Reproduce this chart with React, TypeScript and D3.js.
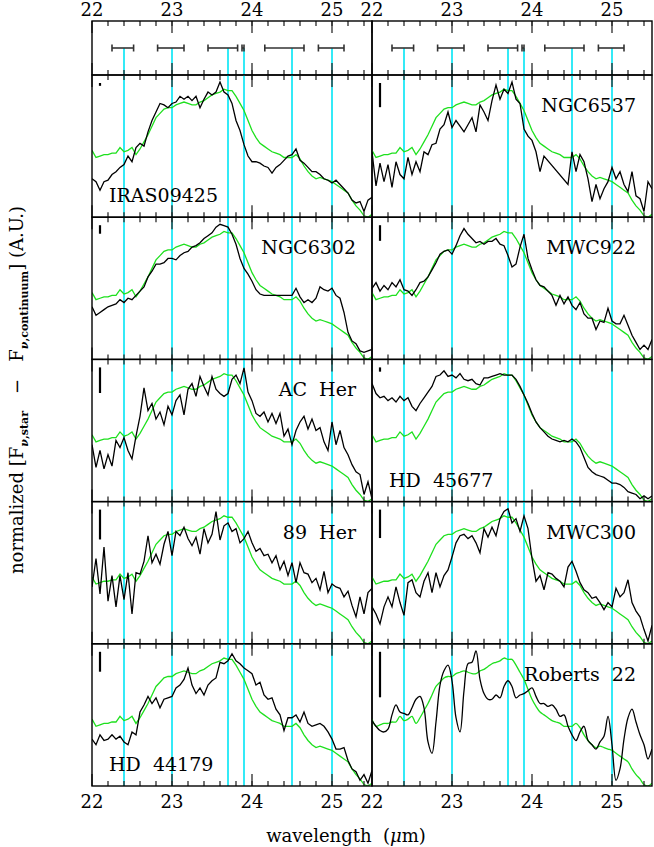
import React from 'react';
import * as d3 from 'd3';

// wavelength grid: 22.00 .. 25.50 um in 0.05 steps (71 samples)
const WAVE_START = 22;
const WAVE_STEP = 0.05;

const X_TICK_LABELS = [22, 23, 24, 25];

// feature positions (cyan lines) and their widths (top strip)
const FEATURES = [22.4, 23.0, 23.7, 23.9, 24.5, 25.0];
const FEATURE_LO = [22.25, 22.82, 23.45, 23.875, 24.16, 24.83];
const FEATURE_HI = [22.52, 23.15, 23.82, 23.9, 24.65, 25.15];

// comparison profile (green), same in each panel
const TEMPLATE = [
  0.47, 0.42, 0.43, 0.44, 0.44, 0.45, 0.45, 0.49, 0.46, 0.47,
  0.49, 0.44, 0.48, 0.53, 0.58, 0.64, 0.70, 0.73, 0.76, 0.77,
  0.77, 0.79, 0.80, 0.81, 0.80, 0.79, 0.79, 0.81, 0.82, 0.84,
  0.86, 0.87, 0.88, 0.90, 0.89, 0.89, 0.85, 0.80, 0.75, 0.68,
  0.61, 0.56, 0.52, 0.50, 0.48, 0.46, 0.45, 0.44, 0.42, 0.42,
  0.42, 0.44, 0.41, 0.36, 0.32, 0.29, 0.27, 0.28, 0.27, 0.26,
  0.25, 0.23, 0.21, 0.19, 0.17, 0.12, 0.08, 0.05, 0.01, 0.00,
  0.02,
];

const IRAS09425 = [
  0.27, 0.25, 0.19, 0.25, 0.26, 0.30, 0.32, 0.35, 0.37, 0.43,
  0.39, 0.49, 0.52, 0.50, 0.60, 0.68, 0.74, 0.80, 0.79, 0.77,
  0.80, 0.81, 0.85, 0.83, 0.85, 0.82, 0.85, 0.77, 0.83, 0.88,
  0.86, 0.88, 0.95, 0.88, 0.86, 0.80, 0.68, 0.61, 0.51, 0.43,
  0.39, 0.39, 0.38, 0.36, 0.35, 0.31, 0.35, 0.37, 0.40, 0.43,
  0.44, 0.48, 0.40, 0.38, 0.35, 0.32, 0.32, 0.30, 0.27, 0.26,
  0.24, 0.26, 0.23, 0.20, 0.17, 0.12, 0.10, 0.11, 0.04, 0.12,
  0.14,
];

const NGC6537 = [
  0.46, 0.22, 0.38, 0.25, 0.37, 0.21, 0.39, 0.30, 0.27, 0.42,
  0.30, 0.39, 0.32, 0.46, 0.44, 0.51, 0.52, 0.62, 0.65, 0.74,
  0.63, 0.68, 0.64, 0.60, 0.65, 0.70, 0.60, 0.79, 0.74, 0.68,
  0.82, 0.93, 0.83, 0.90, 0.87, 0.95, 0.83, 0.80, 0.62, 0.57,
  0.54, 0.46, 0.32, 0.43, null, null, null, null, null, 0.23,
  0.46, 0.32, 0.44, 0.39, 0.27, 0.11, 0.23, 0.13, 0.20, 0.25,
  0.35, 0.27, 0.32, 0.23, 0.18, 0.32, 0.15, 0.13, 0.04, 0.25,
  0.20,
];

const NGC6302 = [
  0.37, 0.31, 0.33, 0.35, 0.37, 0.38, 0.39, 0.42, 0.40, 0.43,
  0.42, 0.45, 0.48, 0.51, 0.58, 0.62, 0.67, 0.67, 0.68, 0.71,
  0.71, 0.70, 0.73, 0.75, 0.76, 0.79, 0.80, 0.82, 0.85, 0.87,
  0.89, 0.93, 0.95, 0.94, 0.93, 0.88, 0.81, 0.71, 0.64, 0.60,
  0.55, 0.49, 0.46, 0.45, 0.45, 0.45, 0.45, 0.45, 0.45, 0.45,
  0.45, 0.50, 0.44, 0.40, 0.42, 0.40, 0.43, 0.51, 0.49, 0.48,
  0.50, 0.45, 0.43, 0.33, 0.19, 0.13, 0.11, 0.06, 0.05, 0.06,
  0.07,
];

const MWC922 = [
  0.50, 0.54, 0.48, 0.52, 0.49, 0.54, 0.51, 0.56, 0.49, 0.48,
  0.45, 0.49, 0.54, 0.55, 0.58, 0.63, 0.68, 0.74, 0.76, 0.77,
  0.74, 0.80, 0.87, 0.92, 0.88, 0.85, 0.82, 0.83, 0.81, 0.83,
  0.83, 0.85, 0.81, 0.80, 0.73, 0.65, 0.67, 0.79, 0.88, 0.71,
  0.63, 0.56, 0.52, 0.51, 0.48, 0.45, 0.38, 0.45, 0.39, 0.44,
  0.38, 0.35, 0.40, 0.32, 0.29, 0.29, 0.21, 0.27, 0.26, 0.36,
  0.27, 0.25, 0.25, 0.31, 0.24, 0.17, 0.12, 0.07, 0.10, 0.07,
  0.14,
];

const AC_HER = [
  0.40, 0.24, 0.36, 0.23, 0.33, 0.25, 0.43, 0.38, 0.45, 0.36,
  0.30, 0.46, 0.60, 0.80, 0.64, 0.69, 0.58, 0.63, 0.54, 0.67,
  0.61, 0.71, 0.75, 0.61, 0.79, 0.83, 0.74, 0.88, 0.81, 0.75,
  0.88, 0.79, 0.76, 0.74, 0.76, 0.86, 0.89, 0.83, 0.94, 0.77,
  0.71, 0.62, 0.60, 0.63, 0.56, 0.62, 0.55, 0.62, 0.46, 0.51,
  0.40, 0.50, 0.56, 0.60, 0.51, 0.58, 0.50, 0.52, 0.42, 0.36,
  0.56, 0.40, 0.50, 0.38, 0.33, 0.26, 0.21, 0.19, 0.05, 0.14,
  0.02,
];

const HD45677 = [
  0.83, 0.76, 0.73, 0.74, 0.71, 0.73, 0.70, 0.74, 0.71, 0.73,
  0.67, 0.64, 0.69, 0.73, 0.77, 0.81, 0.88, 0.89, 0.92, 0.88,
  0.89, 0.87, 0.90, 0.86, 0.85, 0.86, 0.83, 0.82, 0.87, 0.87,
  0.88, 0.89, 0.90, 0.89, 0.89, 0.89, 0.86, 0.81, 0.75, 0.69,
  0.62, 0.56, 0.52, 0.49, 0.46, 0.44, 0.43, 0.42, 0.43, 0.42,
  0.44, 0.42, 0.38, 0.31, 0.24, 0.21, 0.19, 0.18, 0.17, 0.15,
  0.13, 0.13, 0.12, 0.10, 0.07, 0.06, 0.05, 0.02, 0.04, 0.02,
  0.04,
];

const HER_89 = [
  0.40, 0.60, 0.35, 0.68, 0.30, 0.48, 0.26, 0.48, 0.31, 0.50,
  0.21, 0.50, 0.49, 0.58, 0.76, 0.57, 0.63, 0.56, 0.70, 0.79,
  0.62, 0.79, 0.76, 0.82, 0.74, 0.69, 0.75, 0.63, 0.81, 0.71,
  0.77, 0.93, 0.73, 0.83, 0.85, 0.79, 0.81, 0.71, 0.74, 0.79,
  0.71, 0.65, 0.67, 0.62, 0.63, 0.57, 0.62, 0.52, 0.58, 0.48,
  0.57, 0.43, 0.57, 0.50, 0.49, 0.43, 0.46, 0.38, 0.51, 0.36,
  0.42, 0.40, 0.39, 0.33, 0.37, 0.27, 0.19, 0.33, 0.21, 0.36,
  0.39,
];

const MWC300 = [
  0.26, 0.21, 0.14, 0.26, 0.33, 0.26, 0.40, 0.29, 0.20, 0.43,
  0.45, 0.36, 0.33, 0.44, 0.50, 0.36, 0.50, 0.40, 0.48, 0.52,
  0.61, 0.71, 0.76, 0.77, 0.74, 0.76, 0.71, 0.64, 0.81, 0.75,
  0.82, 0.76, 0.88, 0.93, 0.95, 0.85, 0.88, 0.79, 0.90, 0.81,
  0.60, 0.44, 0.48, 0.38, 0.50, 0.49, 0.46, 0.44, 0.40, 0.54,
  0.58, 0.51, 0.43, 0.38, 0.36, 0.32, 0.33, 0.29, 0.24, 0.29,
  0.26, 0.39, 0.33, 0.36, 0.45, 0.29, 0.23, 0.19, 0.10, 0.02,
  0.13,
];

const HD44179 = [
  0.33, 0.29, 0.36, 0.32, 0.33, 0.36, 0.33, 0.35, 0.31, 0.29,
  0.38, 0.36, 0.52, 0.57, 0.63, 0.58, 0.62, 0.55, 0.61, 0.62,
  0.63, 0.69, 0.71, 0.75, 0.83, 0.71, 0.65, 0.69, 0.64, 0.71,
  0.74, 0.76, 0.87, 0.86, 0.88, 0.93, 0.88, 0.86, 0.83, 0.81,
  0.79, 0.71, 0.73, 0.64, 0.61, 0.62, 0.54, 0.50, 0.39, 0.48,
  0.48, 0.50, 0.45, 0.52, 0.44, 0.42, 0.43, 0.44, 0.42, 0.38,
  0.33, 0.26, 0.26, 0.27, 0.18, 0.12, 0.10, 0.04, 0.08, 0.02,
  0.11,
];

const ROBERTS22 = [
  0.46, 0.42, 0.39, 0.38, 0.40, 0.50, 0.57, 0.52, 0.51, 0.50,
  0.55, 0.61, 0.63, 0.55, 0.31, 0.23, 0.45, 0.71, 0.81, 0.85,
  0.74, 0.48, 0.38, 0.67, 0.86, 0.87, 0.95, 0.75, 0.65, 0.61,
  0.61, 0.64, 0.62, 0.70, 0.74, 0.70, 0.62, 0.64, 0.65, 0.67,
  0.69, 0.63, 0.58, 0.58, 0.56, 0.57, 0.54, 0.49, 0.50, 0.42,
  0.36, 0.32, 0.38, 0.42, 0.32, 0.29, 0.26, 0.31, 0.35, 0.49,
  0.29, 0.04, 0.12, 0.33, 0.48, 0.54, 0.45, 0.36, 0.29, 0.19,
  0.26,
];

const NAMES = ['IRAS09425', 'NGC6537', 'NGC6302', 'MWC922', 'AC Her', 'HD 45677', '89 Her', 'MWC300', 'HD 44179', 'Roberts 22'];
const SPECTRA = [IRAS09425, NGC6537, NGC6302, MWC922, AC_HER, HD45677, HER_89, MWC300, HD44179, ROBERTS22];
// typical noise (fraction of panel height), drawn as the small bar top-left
const NOISE = [0.02, 0.17, 0.06, 0.11, 0.18, 0.03, 0.21, 0.2, 0.14, 0.32];

// layout
const W = 654, H = 847;
const COL_X = [92, 372];
const PW = 280;
const STRIP_TOP = 21, STRIP_BOT = 75;
const ROW_H = 142.2;
const FONT = '"DejaVu Serif", serif';
const CYAN = '#1ee8f6';
const GREEN = '#1ee01e';
const BOTTOM_LEFT_LABELS = ['IRAS09425', 'HD 45677', 'HD 44179'];

const toPoints = (vals) =>
  vals
    .map((v, i) => (v == null ? null : [WAVE_START + i * WAVE_STEP, v]))
    .filter((p) => p !== null);

function Ticks({ x, top, bottom }) {
  const minor = d3.range(22.2, 25.45, 0.2);
  return (
    <g stroke="#2a2a2a" strokeWidth={1.3}>
      {minor.map((t) => (
        <g key={'m' + t}>
          <line x1={x(t)} x2={x(t)} y1={top} y2={top + 5} />
          <line x1={x(t)} x2={x(t)} y1={bottom} y2={bottom - 5} />
        </g>
      ))}
      {X_TICK_LABELS.map((t) => (
        <g key={'M' + t}>
          <line x1={x(t)} x2={x(t)} y1={top} y2={top + 12} />
          <line x1={x(t)} x2={x(t)} y1={bottom} y2={bottom - 12} />
        </g>
      ))}
    </g>
  );
}

function Column({ col }) {
  const x = d3.scaleLinear().domain([22, 25.5]).range([COL_X[col], COL_X[col] + PW]);
  const left = COL_X[col];
  const right = left + PW;
  const stripY = 48;
  const lastBottom = STRIP_BOT + ROW_H * 5;

  return (
    <g>
      {/* top strip with feature widths */}
      {FEATURES.map((f) => (
        <line key={'sc' + f} x1={x(f)} x2={x(f)} y1={stripY} y2={STRIP_BOT} stroke={CYAN} strokeWidth={1.8} />
      ))}
      <g stroke="#333" strokeWidth={1.6}>
        {FEATURE_LO.map((lo, i) => (
          <g key={'eb' + i}>
            <line x1={x(lo)} x2={x(FEATURE_HI[i])} y1={stripY} y2={stripY} />
            <line x1={x(lo)} x2={x(lo)} y1={stripY - 3.5} y2={stripY + 3.5} />
            <line x1={x(FEATURE_HI[i])} x2={x(FEATURE_HI[i])} y1={stripY - 3.5} y2={stripY + 3.5} />
          </g>
        ))}
      </g>
      <Ticks x={x} top={STRIP_TOP} bottom={STRIP_BOT} />
      <rect x={left} y={STRIP_TOP} width={PW} height={STRIP_BOT - STRIP_TOP} fill="none" stroke="#000" strokeWidth={1.4} />

      {/* top axis labels */}
      {X_TICK_LABELS.map((t) => (
        <text key={'tl' + t} x={x(t)} y={16} textAnchor="middle" fontFamily={FONT} fontSize={18}>
          {t}
        </text>
      ))}

      {d3.range(5).map((row) => {
        const idx = row * 2 + col;
        const top = STRIP_BOT + row * ROW_H;
        const bottom = top + ROW_H;
        const y = d3.scaleLinear().domain([0, 1]).range([bottom, top]);
        const line = d3
          .line()
          .x((d) => x(d[0]))
          .y((d) => y(d[1]))
          .curve(NAMES[idx] === 'Roberts 22' ? d3.curveCatmullRom : d3.curveLinear);
        const name = NAMES[idx];
        const bl = BOTTOM_LEFT_LABELS.includes(name);
        return (
          <g key={'row' + row}>
            <defs>
              <clipPath id={`clip-${col}-${row}`}>
                <rect x={left} y={top} width={PW} height={ROW_H} />
              </clipPath>
            </defs>
            {FEATURES.map((f) => (
              <line key={'c' + f} x1={x(f)} x2={x(f)} y1={top} y2={bottom} stroke={CYAN} strokeWidth={1.8} />
            ))}
            <g clipPath={`url(#clip-${col}-${row})`}>
              <path d={line(toPoints(TEMPLATE))} fill="none" stroke={GREEN} strokeWidth={1.3} />
              <path d={line(toPoints(SPECTRA[idx]))} fill="none" stroke="#000" strokeWidth={1.3} />
            </g>
            <line x1={left + 8} x2={left + 8} y1={top + 8} y2={top + 8 + NOISE[idx] * ROW_H} stroke="#000" strokeWidth={2.2} />
            <Ticks x={x} top={top} bottom={bottom} />
            <rect x={left} y={top} width={PW} height={ROW_H} fill="none" stroke="#000" strokeWidth={1.4} />
            <text
              x={bl ? left + 17 : right - 16}
              y={bl ? bottom - 15 : top + 37}
              textAnchor={bl ? 'start' : 'end'}
              fontFamily={FONT}
              fontSize={19}
              style={{ whiteSpace: 'pre' }}
            >
              {name.replace(' ', '  ')}
            </text>
          </g>
        );
      })}

      {/* bottom axis labels */}
      {X_TICK_LABELS.map((t) => (
        <text key={'bl' + t} x={x(t)} y={lastBottom + 22} textAnchor="middle" fontFamily={FONT} fontSize={18}>
          {t}
        </text>
      ))}
    </g>
  );
}

export default function App() {
  return (
    <svg width={W} height={H} style={{ position: 'absolute', left: 0, top: 0, background: '#fff' }}>
      <rect width={W} height={H} fill="#fff" />
      <Column col={0} />
      <Column col={1} />
      <text x={346} y={842} textAnchor="middle" fontFamily={FONT} fontSize={18} style={{ whiteSpace: 'pre' }}>
        {'wavelength  ('}
        <tspan fontStyle="italic">μ</tspan>
        {'m)'}
      </text>
      <text
        transform="translate(23,390) rotate(-90)"
        textAnchor="middle"
        fontFamily={FONT}
        fontSize={18}
        style={{ whiteSpace: 'pre' }}
      >
        {'normalized ['}F
        <tspan fontSize={11} fontWeight="bold" fontStyle="italic" dy={5}>ν</tspan>
        <tspan fontSize={11} fontWeight="bold">,star</tspan>
        <tspan dy={-5}>{'   −   F'}</tspan>
        <tspan fontSize={11} fontWeight="bold" fontStyle="italic" dy={5}>ν</tspan>
        <tspan fontSize={11} fontWeight="bold">,continuum</tspan>
        <tspan dy={-5}>{'] (A.U.)'}</tspan>
      </text>
    </svg>
  );
}
